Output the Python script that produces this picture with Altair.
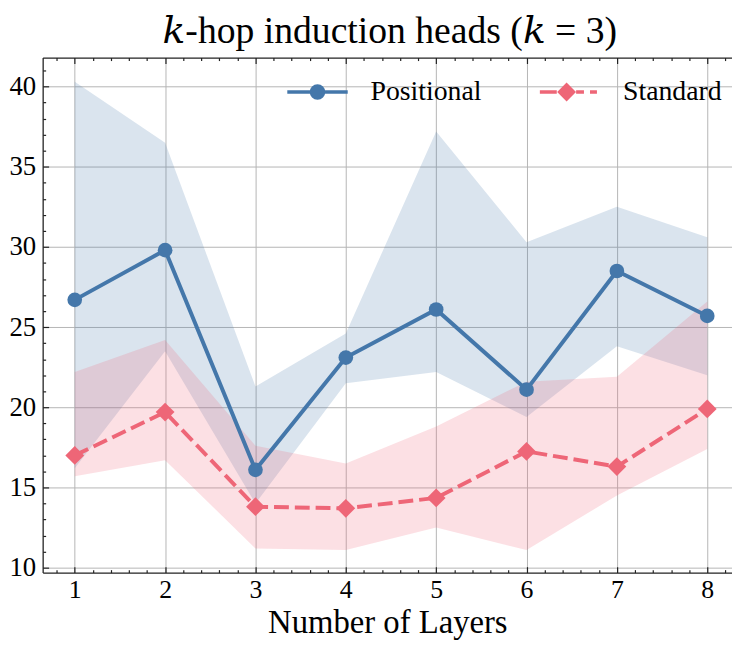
import altair as alt
import pandas as pd

# ---- data ----
layers = [1, 2, 3, 4, 5, 6, 7, 8]
pos_mean = [26.7, 29.8, 16.1, 23.1, 26.1, 21.1, 28.5, 25.7]
pos_upper = [40.3, 36.5, 21.3, 24.6, 37.2, 30.3, 32.5, 30.6]
pos_lower = [16.2, 23.5, 14.0, 21.5, 22.2, 19.4, 23.8, 22.0]
std_mean = [17.0, 19.7, 13.8, 13.7, 14.35, 17.25, 16.3, 19.9]
std_upper = [22.2, 24.2, 17.6, 16.5, 18.8, 21.6, 21.9, 26.6]
std_lower = [15.7, 16.7, 11.2, 11.1, 12.5, 11.1, 14.5, 17.4]
series_names = ["Positional", "Standard"]
title_text = "𝑘-hop induction heads (𝑘 = 3)"
x_title = "Number of Layers"

x_major = layers
x_minor = [round(v / 5, 1) for v in range(4, 42) if v % 5 != 0]
y_major = [10, 15, 20, 25, 30, 35, 40]
y_minor = [v for v in range(11, 42) if v % 5 != 0]

BLUE = "#4477AA"
PINK = "#EE6677"
FONT = "Liberation Serif"
TITLE_FONT = "Liberation Serif, DejaVu Serif"
INK = "#222222"
W, H = 696, 520

df = pd.DataFrame({
    "layer": layers,
    "pos_mean": pos_mean, "pos_upper": pos_upper, "pos_lower": pos_lower,
    "std_mean": std_mean, "std_upper": std_upper, "std_lower": std_lower,
})
long = pd.concat([
    pd.DataFrame({"layer": layers, "value": pos_mean, "series": series_names[0]}),
    pd.DataFrame({"layer": layers, "value": std_mean, "series": series_names[1]}),
])

xs = alt.Scale(domain=[0.645, 8.274], nice=False, zero=False)
ys = alt.Scale(domain=[9.69, 41.81], nice=False, zero=False)

base = alt.Chart(df)

ax_main_x = alt.Axis(
    orient="bottom", values=x_major, format="d", grid=True, gridColor="#b5b5b5", gridWidth=1,
    ticks=False, tickSize=0, domain=True, domainColor=INK, domainWidth=1.3,
    labelFont=FONT, labelFontSize=26, labelColor="black", labelPadding=25,
    labelBaseline="alphabetic", labelFlush=False, labelOverlap=False,
    title=x_title, titleFont=FONT, titleFontSize=33, titleFontWeight="normal",
    titleColor="black", titleY=60.5, titleBaseline="alphabetic", minExtent=0,
)
ax_main_y = alt.Axis(
    orient="left", values=y_major, format="d", grid=True, gridColor="#b5b5b5", gridWidth=1,
    ticks=False, tickSize=0, domain=True, domainColor=INK, domainWidth=1.3,
    labelFont=FONT, labelFontSize=27, labelColor="black", labelPadding=7,
    labelFlush=False, labelOverlap=False, title=None, minExtent=0,
)


def tick_axis(orient, values, size, domain=False, **kw):
    opts = dict(
        orient=orient, values=values, grid=False, labels=False, domain=domain,
        domainColor=INK, domainWidth=1.3, ticks=True, tickSize={"expr": str(-size)},
        tickColor=INK, tickWidth=1.2, title=None, zindex=1, minExtent=0, maxExtent=0,
    )
    opts.update(kw)
    return alt.Axis(**opts)


band_pos = base.mark_area(color=BLUE, opacity=0.2).encode(
    x=alt.X("layer:Q", scale=xs, axis=ax_main_x),
    y=alt.Y("pos_lower:Q", scale=ys, axis=ax_main_y),
    y2="pos_upper:Q",
)
band_std = base.mark_area(color=PINK, opacity=0.2).encode(
    x=alt.X("layer:Q", scale=xs, axis=None),
    y=alt.Y("std_lower:Q", scale=ys, axis=None),
    y2="std_upper:Q",
)
line_pos = base.mark_line(color=BLUE, strokeWidth=4).encode(
    x=alt.X("layer:Q", scale=xs, axis=None),
    y=alt.Y("pos_mean:Q", scale=ys, axis=None),
)
pts_pos = base.mark_point(shape="circle", filled=True, size=220, color=BLUE, opacity=1).encode(
    x=alt.X("layer:Q", scale=xs, axis=None),
    y=alt.Y("pos_mean:Q", scale=ys, axis=None),
)
line_std = base.mark_line(color=PINK, strokeWidth=4, strokeDash=[15, 6]).encode(
    x=alt.X("layer:Q", scale=xs, axis=None),
    y=alt.Y("std_mean:Q", scale=ys, axis=None),
)
pts_std = base.mark_point(shape="diamond", filled=True, size=360, color=PINK, opacity=1).encode(
    x=alt.X("layer:Q", scale=xs, axis=None),
    y=alt.Y("std_mean:Q", scale=ys, axis=None),
)

# tick-only layers (inward ticks, matplotlib style)
ticks_major = base.mark_point(opacity=0).encode(
    x=alt.X("layer:Q", scale=xs, axis=tick_axis("bottom", x_major, 6)),
    y=alt.Y("pos_mean:Q", scale=ys, axis=tick_axis("left", y_major, 6)),
)
ticks_minor = base.mark_point(opacity=0).encode(
    x=alt.X("layer:Q", scale=xs, axis=tick_axis("bottom", x_minor, 3)),
    y=alt.Y("pos_mean:Q", scale=ys, axis=tick_axis("left", y_minor, 3)),
)
# top axis: major ticks, frame line and the chart title
ticks_top_major = base.mark_point(opacity=0).encode(
    x=alt.X("layer:Q", scale=xs, axis=tick_axis(
        "top", x_major, 6, domain=True,
        title=title_text, titleFont=TITLE_FONT, titleFontSize=38, titleFontWeight="normal",
        titleColor="black", titleX=W / 2 + 2, titleY=-15, titleAlign="center",
        titleBaseline="alphabetic", titleAngle=0,
    )),
    y=alt.Y("pos_mean:Q", scale=ys, axis=None),
)
ticks_top_minor = base.mark_point(opacity=0).encode(
    x=alt.X("layer:Q", scale=xs, axis=tick_axis("top", x_minor, 3)),
    y=alt.Y("pos_mean:Q", scale=ys, axis=None),
)


# legend symbols: a line with a (stroke-filled) marker, in unit coordinates
def ring(r):
    return f"M{r},0A{r},{r} 0 1,1 {-r},0A{r},{r} 0 1,1 {r},0Z"


def rhomb(cx, s):
    return f"M{cx},{-s}L{cx + s},0L{cx},{s}L{cx - s},0Z"


pos_sym = "M-1,0H1" + "".join(ring(r) for r in (0.2, 0.13, 0.06))
std_sym = "M-1,0H-0.44M0.2,0H0.46M0.66,0H0.89" + "".join(
    rhomb(-0.115, s) for s in (0.23, 0.15, 0.07))

leg = alt.Legend(
    orient="none", legendX=245, legendY=2, direction="horizontal", title=None,
    symbolSize=3721, symbolStrokeWidth=3.5, labelFont=FONT, labelFontSize=28,
    labelColor="black", labelOffset=21, columnPadding=51, padding=0,
)
legend_layer = alt.Chart(long).mark_point(filled=False, opacity=0, strokeWidth=3.5).encode(
    x=alt.X("layer:Q", scale=xs, axis=None),
    y=alt.Y("value:Q", scale=ys, axis=None),
    stroke=alt.Stroke("series:N", scale=alt.Scale(domain=series_names, range=[BLUE, PINK]), legend=leg),
    shape=alt.Shape("series:N", scale=alt.Scale(domain=series_names, range=[pos_sym, std_sym]), legend=leg),
)

chart = alt.layer(
    band_pos, band_std, line_pos, pts_pos, line_std, pts_std,
    ticks_major, ticks_minor, ticks_top_major, ticks_top_minor, legend_layer,
).resolve_axis(x="independent", y="independent").properties(
    width=W,
    height=H,
    autosize=alt.AutoSizeParams(type="none"),
    padding={"left": 35, "top": 47, "right": 0, "bottom": 68},
).configure(font=FONT).configure_view(stroke=None)

chart.save("out.html", embed_options={"renderer": "svg", "actions": False})
